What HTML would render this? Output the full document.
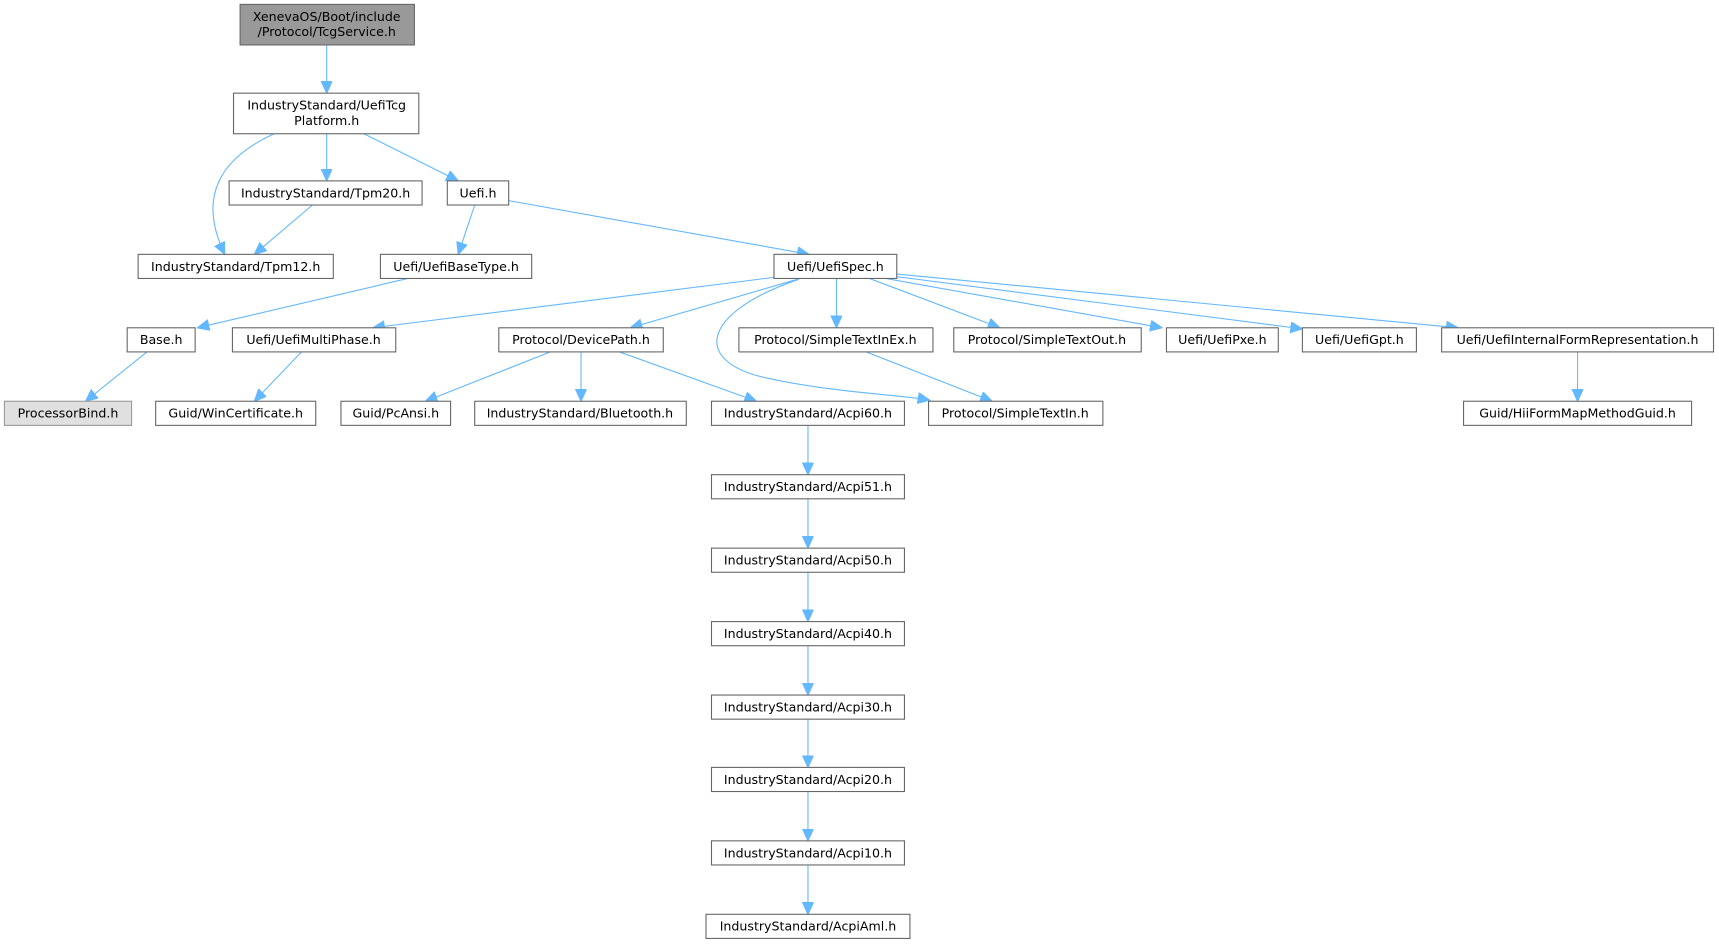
<!DOCTYPE html>
<html><head><meta charset="utf-8"><style>
html,body{margin:0;padding:0;background:#fff;width:1719px;height:945px;overflow:hidden}
svg{display:block}
text{font-family:"DejaVu Sans","Liberation Sans",sans-serif;font-size:11.5px;fill:#000;text-anchor:middle}
.b{fill:#fff;stroke:#666;stroke-width:1}
.e{fill:none;stroke:#63b8ff;stroke-width:1}
</style></head><body>
<svg width="1719" height="945" viewBox="0 0 1568 862" xmlns="http://www.w3.org/2000/svg">
<defs><marker id="a" markerUnits="userSpaceOnUse" markerWidth="14" markerHeight="14" refX="11" refY="5" orient="auto"><path d="M0,0 L11,5 L0,10 z" fill="#63b8ff" stroke="#63b8ff"/></marker></defs>
<g class="e" marker-end="url(#a)">
<path d="M298,41 L298,85"/>
<path d="M250,122 C200,145 180,180 205,232"/>
<path d="M298,122 L298,165"/>
<path d="M332,122 L418,165"/>
<path d="M285,187 L232,232"/>
<path d="M433,187 L418,232"/>
<path d="M464,183 L738,232"/>
<path d="M372,254 L180,299"/>
<path d="M134,321 L78,366"/>
<path d="M706,253 L340,299"/>
<path d="M730,254 L575,299"/>
<path d="M728,255 C640,285 630,330 700,345 C760,358 820,360 848,365"/>
<path d="M763,254 L763,299"/>
<path d="M793,254 L912,299"/>
<path d="M808,254 L1060,299"/>
<path d="M815,252 L1188,300"/>
<path d="M818,250 L1330,299"/>
<path d="M275,321 L232,366"/>
<path d="M502,321 L388,366"/>
<path d="M530,321 L530,366"/>
<path d="M565,321 L690,366"/>
<path d="M790,321 L905,366"/>
<path d="M1439,321 L1439,366"/>
<path d="M737,388 L737,433"/>
<path d="M737,455 L737,500"/>
<path d="M737,522 L737,567"/>
<path d="M737,589 L737,634"/>
<path d="M737,656 L737,700"/>
<path d="M737,722 L737,767"/>
<path d="M737,789 L737,834"/>
</g>
<rect x="219" y="4" width="159" height="37" fill="#999" stroke="#666"/>
<text x="298" y="19">XenevaOS/Boot/include</text><text x="298" y="33">/Protocol/TcgService.h</text>
<rect class="b" x="213" y="85" width="169" height="37"/>
<text x="298" y="100">IndustryStandard/UefiTcg</text><text x="298" y="114">Platform.h</text>
<g>
<rect class="b" x="209" y="165" width="176" height="22"/><text x="297" y="180">IndustryStandard/Tpm20.h</text>
<rect class="b" x="408" y="165" width="56" height="22"/><text x="436" y="180">Uefi.h</text>
<rect class="b" x="126" y="232" width="178" height="22"/><text x="215" y="247">IndustryStandard/Tpm12.h</text>
<rect class="b" x="347" y="232" width="138" height="22"/><text x="416" y="247">Uefi/UefiBaseType.h</text>
<rect class="b" x="706" y="232" width="112" height="22"/><text x="762" y="247">Uefi/UefiSpec.h</text>
<rect class="b" x="116" y="299" width="62" height="22"/><text x="147" y="314">Base.h</text>
<rect class="b" x="212" y="299" width="149" height="22"/><text x="286" y="314">Uefi/UefiMultiPhase.h</text>
<rect class="b" x="455" y="299" width="150" height="22"/><text x="530" y="314">Protocol/DevicePath.h</text>
<rect class="b" x="674" y="299" width="177" height="22"/><text x="762" y="314">Protocol/SimpleTextInEx.h</text>
<rect class="b" x="870" y="299" width="171" height="22"/><text x="955" y="314">Protocol/SimpleTextOut.h</text>
<rect class="b" x="1064" y="299" width="102" height="22"/><text x="1115" y="314">Uefi/UefiPxe.h</text>
<rect class="b" x="1188" y="299" width="104" height="22"/><text x="1240" y="314">Uefi/UefiGpt.h</text>
<rect class="b" x="1315" y="299" width="248" height="22"/><text x="1439" y="314">Uefi/UefiInternalFormRepresentation.h</text>
<rect x="4" y="366" width="116" height="22" fill="#e0e0e0" stroke="#999"/><text x="62" y="381">ProcessorBind.h</text>
<rect class="b" x="142" y="366" width="146" height="22"/><text x="215" y="381">Guid/WinCertificate.h</text>
<rect class="b" x="311" y="366" width="100" height="22"/><text x="361" y="381">Guid/PcAnsi.h</text>
<rect class="b" x="433" y="366" width="193" height="22"/><text x="529" y="381">IndustryStandard/Bluetooth.h</text>
<rect class="b" x="649" y="366" width="176" height="22"/><text x="737" y="381">IndustryStandard/Acpi60.h</text>
<rect class="b" x="847" y="366" width="159" height="22"/><text x="926" y="381">Protocol/SimpleTextIn.h</text>
<rect class="b" x="1335" y="366" width="208" height="22"/><text x="1439" y="381">Guid/HiiFormMapMethodGuid.h</text>
<rect class="b" x="649" y="433" width="176" height="22"/><text x="737" y="448">IndustryStandard/Acpi51.h</text>
<rect class="b" x="649" y="500" width="176" height="22"/><text x="737" y="515">IndustryStandard/Acpi50.h</text>
<rect class="b" x="649" y="567" width="176" height="22"/><text x="737" y="582">IndustryStandard/Acpi40.h</text>
<rect class="b" x="649" y="634" width="176" height="22"/><text x="737" y="649">IndustryStandard/Acpi30.h</text>
<rect class="b" x="649" y="700" width="176" height="22"/><text x="737" y="715">IndustryStandard/Acpi20.h</text>
<rect class="b" x="649" y="767" width="176" height="22"/><text x="737" y="782">IndustryStandard/Acpi10.h</text>
<rect class="b" x="644" y="834" width="186" height="22"/><text x="737" y="849">IndustryStandard/AcpiAml.h</text>
</g>
</svg>
</body></html>
